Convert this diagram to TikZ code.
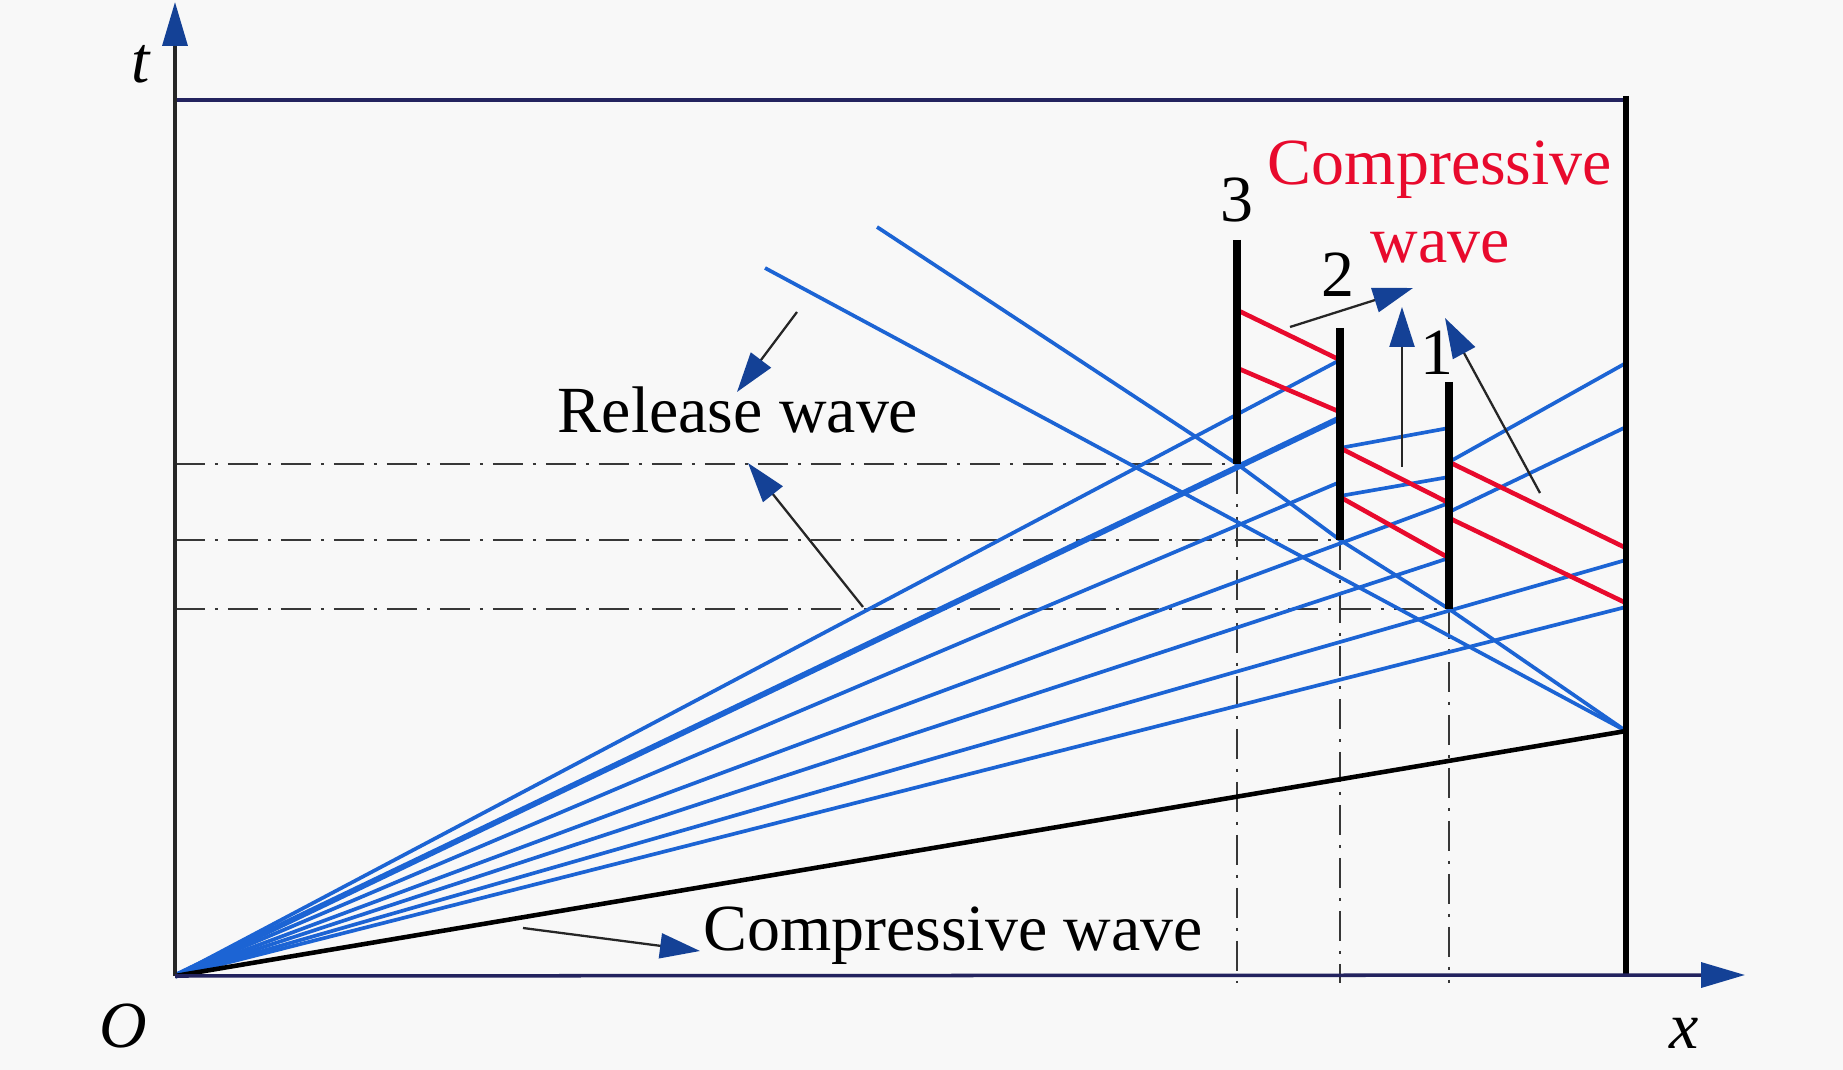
\documentclass[tikz,border=0pt]{standalone}
\usepackage{fontspec}
\setmainfont{Liberation Serif}
\usetikzlibrary{arrows.meta}
\definecolor{wblue}{RGB}{28,100,212}
\definecolor{wred}{RGB}{232,10,45}
\definecolor{ablue}{RGB}{20,65,150}
\definecolor{navy}{RGB}{35,35,95}
\definecolor{bgc}{RGB}{248,248,248}
\definecolor{dd}{RGB}{55,55,55}
\begin{document}
\begin{tikzpicture}[x=0.02cm,y=-0.02cm,
  wave/.style={wblue, line width=2.1pt},
  thickwave/.style={wblue, line width=3.3pt},
  redwave/.style={wred, line width=2.6pt},
  barline/.style={black, line width=4.2pt},
  guide/.style={dd, line width=1.4pt, dash pattern=on 0.6cm off 0.2cm on 0.06cm off 0.2cm},
  leader/.style={black!85, line width=1.3pt, -{Triangle[length=0.8cm,width=0.5cm,color=ablue,fill=ablue]}},
  axisline/.style={line width=2pt, -{Triangle[length=0.88cm,width=0.5cm,color=ablue,fill=ablue]}},
  lbl/.style={font=\fontsize{37.5}{40}\selectfont, anchor=base, inner sep=0pt},
]
\fill[bgc] (0,0) rectangle (1843,1070);
\useasboundingbox (0,0) rectangle (1843,1070);

% key points
\coordinate (O) at (175,976);
\coordinate (ttip) at (175,2);
\coordinate (xtip) at (1745,975);
\coordinate (tl) at (175,100);
\coordinate (tr) at (1626,100);
\coordinate (wtop) at (1626,96);
\coordinate (wbot) at (1626,977);
\coordinate (cw) at (1626,731);
% bars
\coordinate (b3t) at (1237,240); \coordinate (b3) at (1237,464); \coordinate (b3g) at (1237,983);
\coordinate (b2t) at (1340,328); \coordinate (b2) at (1340,540); \coordinate (b2g) at (1340,983);
\coordinate (b1t) at (1449,382); \coordinate (b1) at (1449,609); \coordinate (b1g) at (1449,983);
\coordinate (h3) at (175,464); \coordinate (h2) at (175,540); \coordinate (h1) at (175,609);

% guides
\draw[guide] (h3) -- (b3);
\draw[guide] (h2) -- (b2);
\draw[guide] (h1) -- (b1);
\draw[guide] (b3) -- (b3g);
\draw[guide] (b2) -- (b2g);
\draw[guide] (b1) -- (b1g);

% fan of waves from O
\coordinate (f1) at (1340,360);
\coordinate (f2) at (1340,418);
\coordinate (f3) at (1340,482);
\coordinate (f4) at (1449,503);
\coordinate (f5) at (1449,558);
\coordinate (f6) at (1626,560);
\coordinate (f7) at (1626,607);
\draw[wave] (O) -- (f1);
\draw[thickwave] (O) -- (f2);
\draw[wave] (O) -- (f3);
\draw[wave] (O) -- (f4);
\draw[wave] (O) -- (f5);
\draw[wave] (O) -- (f6);
\draw[wave] (O) -- (f7);

% transmitted short waves
\coordinate (s1a) at (1340,448); \coordinate (s1b) at (1449,428);
\coordinate (s2a) at (1340,496); \coordinate (s2b) at (1449,477);
\coordinate (s3a) at (1449,462); \coordinate (s3b) at (1626,363);
\coordinate (s4a) at (1449,512); \coordinate (s4b) at (1626,427);
\draw[wave] (s1a) -- (s1b);
\draw[wave] (s2a) -- (s2b);
\draw[wave] (s3a) -- (s3b);
\draw[wave] (s4a) -- (s4b);

% release waves
\coordinate (d1) at (765,268);
\coordinate (d2) at (877,227);
\draw[wave] (d1) -- (cw);
\draw[wave] (d2) -- (b3) -- (b2) -- (b1) -- (cw);

% red compressive waves
\coordinate (r1a) at (1237,310); \coordinate (r1b) at (1340,360);
\coordinate (r2a) at (1237,368); \coordinate (r2b) at (1340,412);
\coordinate (r3a) at (1340,448); \coordinate (r3b) at (1449,503);
\coordinate (r4a) at (1340,497); \coordinate (r4b) at (1449,558);
\coordinate (r5a) at (1449,462); \coordinate (r5b) at (1626,548);
\coordinate (r6a) at (1449,518); \coordinate (r6b) at (1626,603);
\draw[redwave] (r1a) -- (r1b);
\draw[redwave] (r2a) -- (r2b);
\draw[redwave] (r3a) -- (r3b);
\draw[redwave] (r4a) -- (r4b);
\draw[redwave] (r5a) -- (r5b);
\draw[redwave] (r6a) -- (r6b);

% bars
\draw[barline] (b3t) -- (b3);
\draw[barline] (b2t) -- (b2);
\draw[barline] (b1t) -- (b1);

% frame and compressive front
\draw[black, line width=2.6pt] (O) -- (cw);
\draw[navy, line width=2pt] (tl) -- (tr);
\draw[black, line width=3pt] (wtop) -- (wbot);
\draw[axisline, black!85] (O) -- (ttip);
\draw[axisline, navy] (O) -- (xtip);

% leaders
\coordinate (a1s) at (797,312); \coordinate (a1e) at (737,392);
\coordinate (a2s) at (863,607); \coordinate (a2e) at (748,463);
\coordinate (a3s) at (523,928); \coordinate (a3e) at (700,951);
\coordinate (a4s) at (1290,327); \coordinate (a4e) at (1413,288);
\coordinate (a5s) at (1402,467); \coordinate (a5e) at (1402,307);
\coordinate (a6s) at (1540,493); \coordinate (a6e) at (1445,318);
\draw[leader] (a1s) -- (a1e);
\draw[leader] (a2s) -- (a2e);
\draw[leader] (a3s) -- (a3e);
\draw[leader] (a4s) -- (a4e);
\draw[leader] (a5s) -- (a5e);
\draw[leader] (a6s) -- (a6e);

% labels
\node[lbl] (lt) at (141,83) {\itshape t};
\node[lbl] (lO) at (123,1047) {\itshape O};
\node[lbl] (lx) at (1684,1048) {\itshape x};
\node[lbl] (l3) at (1237,222) {3};
\node[lbl] (l2) at (1338,297) {2};
\node[lbl] (l1) at (1437,375) {1};
\node[lbl] (rel) at (738,433) {Release wave};
\node[lbl] (comp) at (953,950) {Compressive wave};
\node[lbl, wred] (rc1) at (1440,185) {Compressive};
\node[lbl, wred] (rc2) at (1440,263) {wave};
\end{tikzpicture}
\end{document}
